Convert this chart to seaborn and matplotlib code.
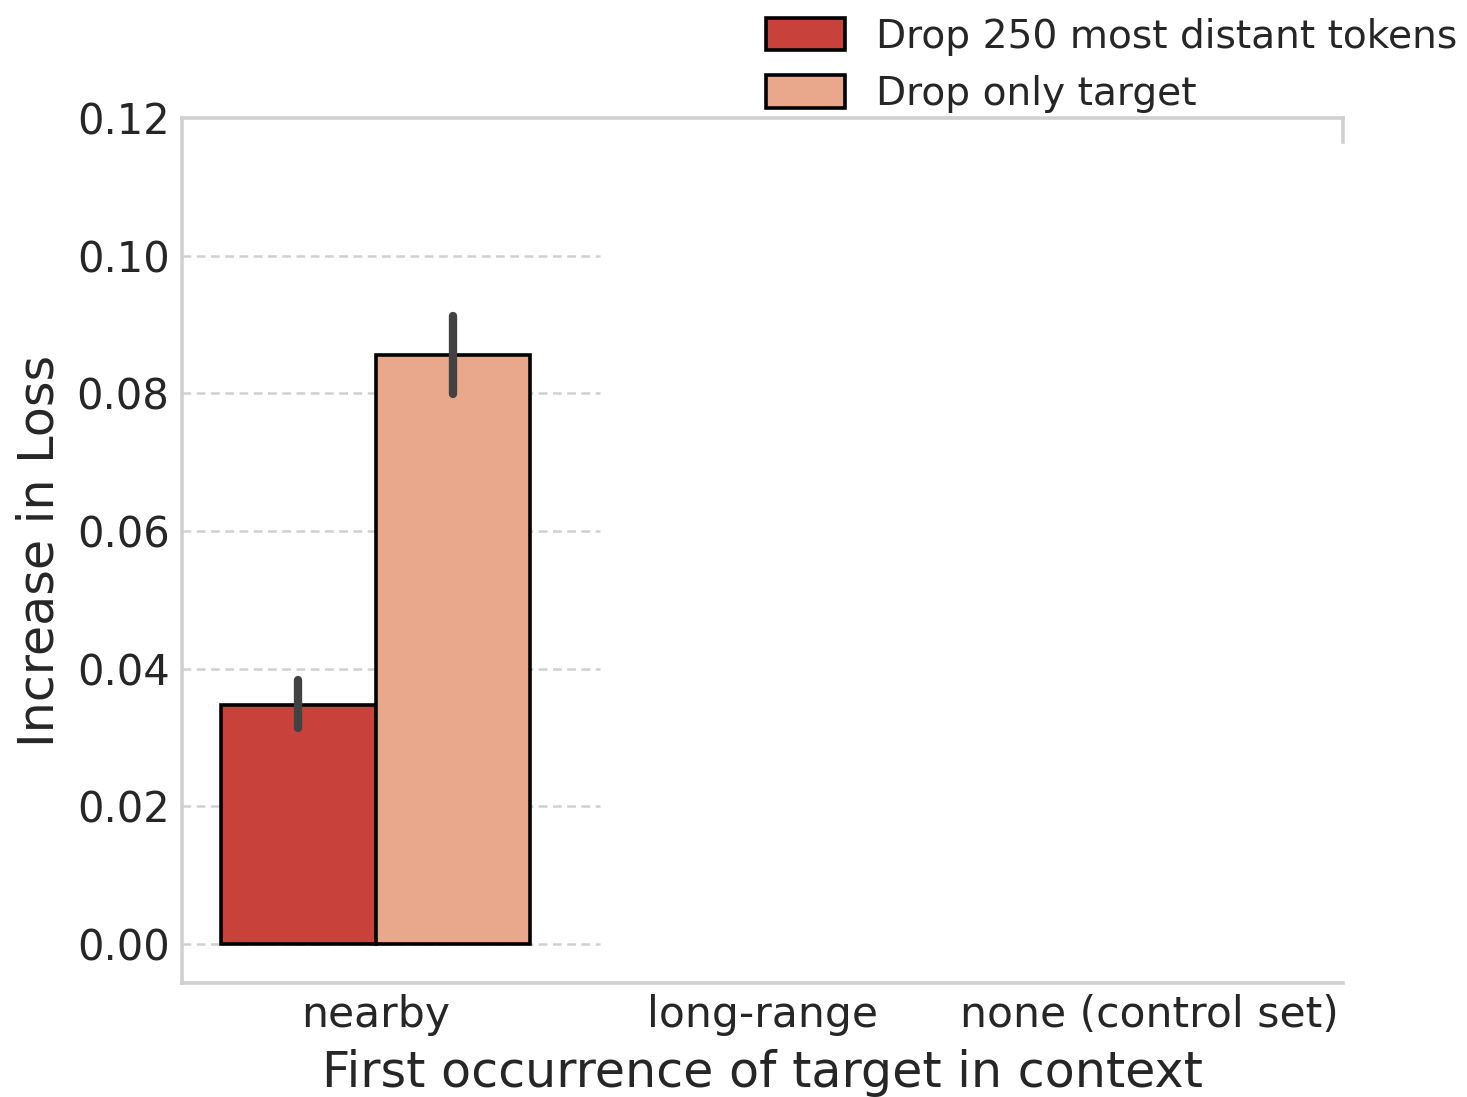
import matplotlib
matplotlib.use("Agg")
import matplotlib.pyplot as plt
import seaborn as sns
import pandas as pd

# Categories and series
categories = ["nearby", "long-range", "none (control set)"]
conditions = ["Drop 250 most distant tokens", "Drop only target"]
bar_category = ["nearby", "nearby"]
mean_increase = [0.0347, 0.0855]
ci_low = [0.0314, 0.0799]
ci_high = [0.0383, 0.0912]
y_ticks = [0.00, 0.02, 0.04, 0.06, 0.08, 0.10, 0.12]
colors = ["#c8413a", "#e9a88c"]

sns.set_style("white")
plt.rcParams["font.family"] = ["DejaVu Sans"]
plt.rcParams["text.color"] = "#262626"
plt.rcParams["axes.labelcolor"] = "#262626"
plt.rcParams["xtick.color"] = "#262626"
plt.rcParams["ytick.color"] = "#262626"

df = pd.DataFrame({"category": bar_category, "condition": conditions,
                   "loss": mean_increase})

fig = plt.figure(figsize=(7.335, 5.485), dpi=200)
ax = fig.add_axes([182 / 1467, 1 - 983 / 1097, (1343 - 182) / 1467, (983 - 118) / 1097])

sns.barplot(data=df, x="category", y="loss", hue="condition", order=categories,
            hue_order=conditions, palette=colors, saturation=1, errorbar=None,
            width=0.8, edgecolor="black", linewidth=1.3, ax=ax, zorder=2)

# Error bars at the bar centres
bars = [p for p in ax.patches if p.get_height() > 0]
bars.sort(key=lambda p: p.get_x())
for p, lo, hi in zip(bars, ci_low, ci_high):
    xc = p.get_x() + p.get_width() / 2
    ax.vlines(xc, lo, hi, color="#424242", linewidth=3.0, capstyle="round", zorder=3)

ax.set_xlim(-0.5, 2.5)
ax.set_ylim(-0.0057, 0.12)
ax.set_yticks(y_ticks)
ax.set_yticklabels([f"{t:.2f}" for t in y_ticks])

# Dashed grid lines across the first group only
ax.hlines(y_ticks[:-1], -0.5, 0.58, colors="#d0d0d0", linestyles=(0, (3.5, 2.2)),
          linewidth=0.9, zorder=1)

for side in ["left", "top", "right", "bottom"]:
    ax.spines[side].set_color("#d0d0d0")
    ax.spines[side].set_linewidth(1.3)
ax.spines["right"].set_bounds(0.1165, 0.12)

ax.tick_params(axis="y", length=0, labelsize=15, pad=4.5)
ax.tick_params(axis="x", length=0, labelsize=15.3, pad=4)
ax.set_xlabel("First occurrence of target in context", fontsize=17.7, labelpad=4.6)
ax.set_ylabel("Increase in Loss", fontsize=17.7, labelpad=4.8)

leg = ax.legend(loc="upper right", bbox_to_anchor=(1.004, 1 - 2 / 1097),
                bbox_transform=fig.transFigure, frameon=False, fontsize=14.1,
                handlelength=2.0, handleheight=0.9, labelspacing=0.5,
                handletextpad=0.8, borderaxespad=0.0)
for h in leg.legend_handles:
    h.set_edgecolor("black")
    h.set_linewidth(1.3)

fig.savefig("out.png", dpi=200)
